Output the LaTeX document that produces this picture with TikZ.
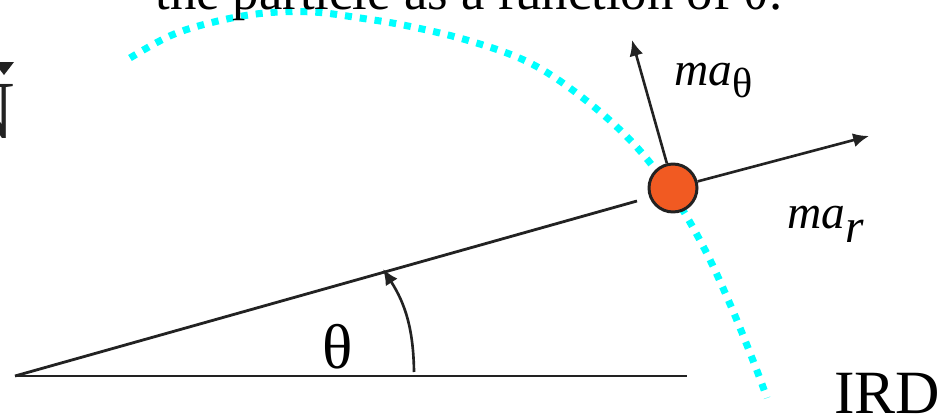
\documentclass[tikz,border=0pt]{standalone}
\usepackage{fontspec}
\setmainfont{Liberation Serif}
\usetikzlibrary{arrows.meta}
\definecolor{ink}{HTML}{222222}
\definecolor{ball}{HTML}{F15A22}
\definecolor{trail}{HTML}{00FFFF}

\begin{document}
\begin{tikzpicture}[
  x=0.02cm, y=-0.02cm,
  ln/.style={draw=ink, line width=1.6pt},
  ptc/.style={circle, draw=ink, fill=ball, line width=1.7pt, minimum size=0.96cm, inner sep=0pt},
  arr/.style={-{Latex[length=9pt,width=8pt]}, draw=ink, line width=1.5pt},
  trj/.style={draw=trail, line width=4pt, dash pattern=on 4pt off 4.5pt},
  lbl/.style={inner sep=0pt, text=black}
]
\useasboundingbox (0,0) rectangle (951,419);
\clip (0,0) rectangle (951,419);

% path of the particle
\draw[trj] plot[smooth, tension=0.6] coordinates {(130,58) (172,35) (218,21) (265,13) (313,12) (360,18) (408,26) (470,41) (530,63) (583,98) (632,142) (670,190) (703,246) (730,304) (754,363) (767,398)};

% reference line and radial line
\coordinate (O)    at (15,376);
\coordinate (xend) at (687,376);
\coordinate (rend) at (637,201);
\draw[ln] (O) -- (xend);
\draw[ln] (O) -- (rend);

% particle and its acceleration terms
\node[ptc] (P) at (673,188) {};
\coordinate (tipr) at (869,136);
\coordinate (tipt) at (632,40);
\draw[arr] (P.15) -- (tipr);
\draw[arr] (P.104) -- (tipt);

% angle
\coordinate (a0) at (414,372);
\coordinate (a1) at (383,269);
\draw[arr] (a0) to[bend right=16] (a1);

\node[lbl, font=\fontsize{36}{36}\selectfont] (th) at (338,347) {θ};
\node[lbl, anchor=base west, font=\fontsize{27}{27}\selectfont] (mat) at (674,85) {\textit{ma}\raisebox{-7pt}{\fontsize{24}{24}\selectfont θ}};
\node[lbl, anchor=base west, font=\fontsize{27}{27}\selectfont] (mar) at (787,228) {\textit{ma}\raisebox{-8pt}{\textit{r}}};

% cut-off slide parts
\node[lbl, anchor=base west, font=\fontsize{30}{30}\selectfont] (ttl) at (155,10) {the particle as a function of θ.};
\node[lbl, anchor=base west, font=\fontsize{35}{35}\selectfont] (ird) at (834,413) {IRD};
\node[lbl, anchor=base east, text=ink, font=\fontsize{47}{47}\selectfont] (nth) at (15,138) {N};
\fill[ink] (-6,62) -- (14,62) -- (4,75) -- cycle;
\end{tikzpicture}
\end{document}
